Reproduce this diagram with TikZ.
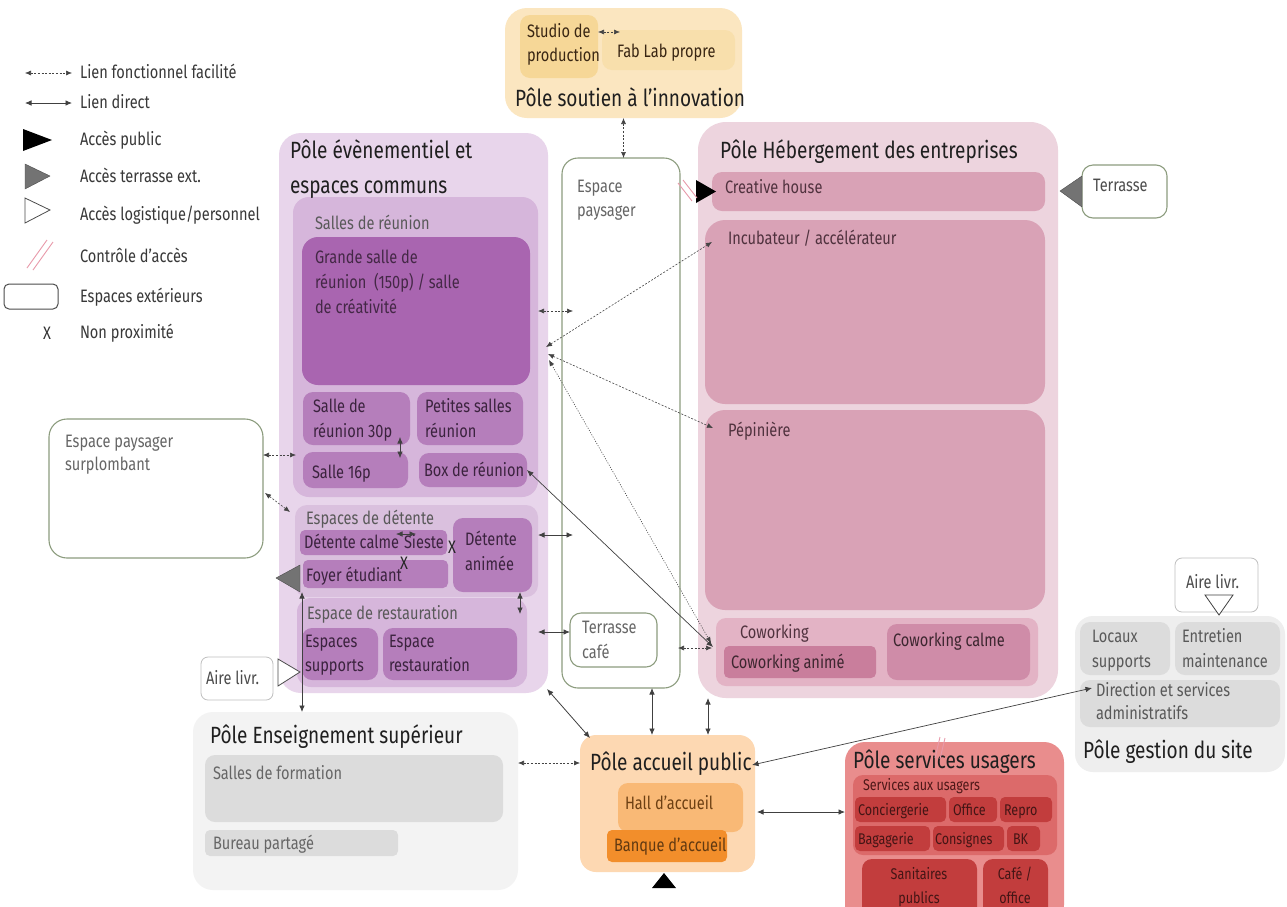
\documentclass[tikz,border=0pt]{standalone}
\usepackage{fontspec}
\setmainfont[FakeStretch=0.81]{Fira Sans}
\usetikzlibrary{arrows.meta,fit,calc}
\definecolor{extc}{HTML}{8C9C7E}
\definecolor{arrc}{HTML}{444444}
\definecolor{soutA}{HTML}{FBE6C0}
\definecolor{soutB}{HTML}{F6D797}
\definecolor{evA}{HTML}{E8D5EB}
\definecolor{evB}{HTML}{D6B6DB}
\definecolor{evC}{HTML}{A965B0}
\definecolor{evD}{HTML}{B57EBB}
\definecolor{evE}{HTML}{DAC0DE}
\definecolor{hebA}{HTML}{EDD4DE}
\definecolor{hebB}{HTML}{D9A2B6}
\definecolor{hebC}{HTML}{E3B3C5}
\definecolor{hebD}{HTML}{C97E9C}
\definecolor{hebE}{HTML}{CF8CA8}
\definecolor{grA}{HTML}{EEEEEE}
\definecolor{grB}{HTML}{DCDCDC}
\definecolor{grC}{HTML}{F3F3F3}
\definecolor{accA}{HTML}{FDD8B2}
\definecolor{accB}{HTML}{F9B976}
\definecolor{accC}{HTML}{F28E2B}
\definecolor{svA}{HTML}{E98D8D}
\definecolor{svB}{HTML}{DC6A6A}
\definecolor{svC}{HTML}{C23D3D}
\definecolor{pinkc}{HTML}{E89AAA}
\newcommand{\smallfs}{\fontsize{18}{21}\selectfont}
\newcommand{\svfs}{\fontsize{15.5}{18}\selectfont}
\newcommand{\titlefs}{\fontsize{23.5}{27}\selectfont}
\newcommand{\bx}[6]{\node[#6, fit={(#2,#3) (#4,#5)}] (#1) {};}
\tikzset{
  every node/.style={inner sep=0pt, outer sep=0pt},
  pole/.style={rounded corners=22pt},
  inbox/.style={rounded corners=10pt},
  smbox/.style={rounded corners=5pt},
  extbox/.style={draw=extc, line width=1.1pt, fill=white, rounded corners=11pt},
  txt/.style={anchor=base west, font=\smallfs, text=black!78},
  ttl/.style={anchor=base west, font=\titlefs, text=black!88},
  dl/.style={{Latex[length=6pt,width=5pt]}-{Latex[length=6pt,width=5pt]}, draw=arrc, line width=0.6pt, dash pattern=on 2pt off 1.6pt},
  sl/.style={{Latex[length=6.5pt,width=5.5pt]}-{Latex[length=6.5pt,width=5.5pt]}, draw=black!75, line width=0.8pt},
  slash/.style={draw=pinkc, line width=0.9pt},
}
\begin{document}
\begin{tikzpicture}[x=1pt,y=-1pt]
\useasboundingbox[fill=white] (0,0) rectangle (1287,906);

% ---------------- legend ----------------
\coordinate (lg1a) at (25,73); \coordinate (lg1b) at (72,73);
\coordinate (lg2a) at (25,103); \coordinate (lg2b) at (72,103);
\draw[dl] (lg1a) -- (lg1b);
\draw[sl] (lg2a) -- (lg2b);
\fill[black] (23,129) -- (52,140) -- (23,151) -- cycle;
\filldraw[fill=black!55, draw=black!70] (25,164) -- (50,176) -- (25,189) -- cycle;
\filldraw[fill=white, draw=black!70, line width=0.8pt] (25,198) -- (50,210) -- (25,223) -- cycle;
\draw[slash] (27,268) -- (47,240);
\draw[slash] (33,270) -- (53,242);
\bx{lgrect}{4}{284}{58}{309}{draw=black!70, line width=1pt, rounded corners=5pt}
\node[font=\smallfs, text=black!80] (lgx) at (47,333) {X};
\node[txt] (l1) at (80,78) {Lien fonctionnel facilité};
\node[txt] (l2) at (80,108) {Lien direct};
\node[txt] (l3) at (80,145) {Accès public};
\node[txt] (l4) at (80,182) {Accès terrasse ext.};
\node[txt] (l5) at (80,220) {Accès logistique/personnel};
\node[txt] (l6) at (80,262) {Contrôle d’accès};
\node[txt] (l7) at (80,302) {Espaces extérieurs};
\node[txt] (l8) at (80,338) {Non proximité};

% ---------------- pôle soutien ----------------
\bx{sout}{505}{8}{742}{118}{pole, fill=soutA}
\bx{studio}{520}{15}{598}{78}{inbox, fill=soutB}
\bx{fab}{602}{30}{735}{70}{inbox, fill=soutB!80}
\node[txt, text=black!70!brown] (tstudio1) at (527,37) {Studio de};
\node[txt, text=black!70!brown] (tstudio2) at (527,61) {production};
\node[txt, text=black!70!brown] (tfab) at (617,57) {Fab Lab propre};
\node[ttl] (tsout) at (515,106) {Pôle soutien à l’innovation};

% ---------------- pôle évènementiel ----------------
\bx{ev}{279}{133}{548}{693}{pole, fill=evA}
\bx{sr}{293}{197}{538}{497}{rounded corners=16pt, fill=evB}
\bx{gs}{302}{237}{530}{385}{rounded corners=16pt, fill=evC}
\bx{s30}{303}{392}{410}{445}{inbox, fill=evD}
\bx{psr}{417}{392}{523}{445}{inbox, fill=evD}
\bx{s16}{303}{452}{408}{488}{inbox, fill=evD}
\bx{boxr}{419}{453}{527}{487}{inbox, fill=evD}
\bx{dt}{295}{505}{538}{597}{rounded corners=12pt, fill=evE}
\bx{dcalme}{300}{530}{447}{555}{smbox, fill=evD}
\bx{foyer}{303}{560}{448}{588}{smbox, fill=evD}
\bx{danim}{453}{518}{532}{592}{inbox, fill=evD}
\bx{rest}{297}{598}{527}{687}{rounded corners=14pt, fill=evB}
\bx{esup}{302}{628}{378}{680}{inbox, fill=evD}
\bx{erest}{383}{628}{517}{680}{inbox, fill=evD}
\node[ttl] (tev1) at (290,158) {Pôle évènementiel et};
\node[ttl] (tev2) at (290,193) {espaces communs};
\node[txt, text=black!65] (tsr) at (315,229) {Salles de réunion};
\node[txt, text=evC!40!black] (tgs1) at (315,263) {Grande salle de};
\node[txt, text=evC!40!black] (tgs2) at (315,288) {réunion~~(150p) / salle};
\node[txt, text=evC!40!black] (tgs3) at (315,313) {de créativité};
\node[txt, text=evC!35!black] (ts301) at (313,412) {Salle de};
\node[txt, text=evC!35!black] (ts302) at (313,437) {réunion 30p};
\node[txt, text=evC!35!black] (tpsr1) at (425,412) {Petites salles};
\node[txt, text=evC!35!black] (tpsr2) at (425,437) {réunion};
\node[txt, text=evC!35!black] (ts16) at (312,478) {Salle 16p};
\node[txt, text=evC!35!black] (tboxr) at (424,476) {Box de réunion};
\node[txt, text=black!65] (tdt) at (306,524) {Espaces de détente};
\node[txt, text=evC!35!black] (tdc) at (304,548) {Détente calme};
\node[txt, text=evC!35!black] (tsi) at (404,548) {Sieste};
\node[txt, text=evC!35!black] (tfo) at (306,581) {Foyer étudiant};
\node[txt, text=evC!35!black] (tda1) at (465,545) {Détente};
\node[txt, text=evC!35!black] (tda2) at (465,570) {animée};
\node[txt, text=black!65] (trest) at (307,619) {Espace de restauration};
\node[txt, text=evC!35!black] (tes1) at (305,647) {Espaces};
\node[txt, text=evC!35!black] (tes2) at (305,671) {supports};
\node[txt, text=evC!35!black] (ter1) at (389,647) {Espace};
\node[txt, text=evC!35!black] (ter2) at (389,671) {restauration};
\node[font=\smallfs, text=black!85] (xa) at (452,547) {X};
\node[font=\smallfs, text=black!85] (xb) at (404,563) {X};
\draw[sl, line width=0.6pt] ($(dcalme.north west)+(96,4)$) -- ($(dcalme.north west)+(116,4)$);

% ---------------- espace paysager ----------------
\bx{pay}{562}{158}{680}{688}{extbox, rounded corners=16pt}
\bx{tcafe}{570}{613}{657}{667}{extbox}
\node[txt, text=black!60] (tpay1) at (577,192) {Espace};
\node[txt, text=black!60] (tpay2) at (577,216) {paysager};
\node[txt, text=black!60] (ttc1) at (582,633) {Terrasse};
\node[txt, text=black!60] (ttc2) at (582,658) {café};

% ---------------- pôle hébergement ----------------
\bx{heb}{698}{122}{1058}{698}{rounded corners=28pt, fill=hebA}
\bx{creat}{712}{172}{1045}{211}{inbox, fill=hebB}
\bx{incub}{705}{220}{1045}{404}{rounded corners=20pt, fill=hebB}
\bx{pep}{705}{410}{1045}{610}{rounded corners=20pt, fill=hebB}
\bx{cow}{716}{618}{1038}{686}{inbox, fill=hebC}
\bx{cowa}{724}{646}{876}{678}{smbox, fill=hebD}
\bx{cowc}{887}{624}{1030}{680}{inbox, fill=hebE}
\node[ttl] (theb) at (720,158) {Pôle Hébergement des entreprises};
\node[txt, text=hebD!40!black] (tcreat) at (725,193) {Creative house};
\node[txt, text=hebD!40!black] (tincub) at (728,244) {Incubateur / accélérateur};
\node[txt, text=hebD!40!black] (tpep) at (728,436) {Pépinière};
\node[txt, text=hebD!40!black] (tcow) at (740,638) {Coworking};
\node[txt, text=hebD!30!black] (tcowa) at (731,668) {Coworking animé};
\node[txt, text=hebD!30!black] (tcowc) at (893,646) {Coworking calme};
\fill[black] (696,180) -- (716,191.5) -- (696,203) -- cycle;
\draw[slash] (678,183) -- (692,201);
\draw[slash] (683,180) -- (697,198);

% terrasse
\bx{terr}{1082}{165}{1167}{218}{extbox}
\node[txt, text=black!70] (tterr) at (1093,191) {Terrasse};
\filldraw[fill=black!55, draw=black!70] (1060,191) -- (1082,176) -- (1082,207) -- cycle;

% ---------------- espace paysager surplombant ----------------
\bx{surp}{49}{419}{263}{558}{extbox, rounded corners=18pt}
\node[txt, text=black!60] (tsurp1) at (65,447) {Espace paysager};
\node[txt, text=black!60] (tsurp2) at (65,470) {surplombant};
\filldraw[fill=black!55, draw=black!70] (276,578) -- (300,565) -- (300,592) -- cycle;

% aire livr left
\bx{aireL}{201}{657}{273}{700}{draw=black!25, line width=0.8pt, fill=white, rounded corners=7pt}
\node[txt, text=black!70] (taireL) at (206,684) {Aire livr.};
\filldraw[fill=white, draw=black!70, line width=0.8pt] (300,672) -- (278,659) -- (278,686) -- cycle;

% ---------------- pôle gestion du site ----------------
\bx{aireR}{1175}{558}{1258}{612}{draw=black!25, line width=0.8pt, fill=white, rounded corners=7pt}
\node[txt, text=black!70] (taireR) at (1186,588) {Aire livr.};
\filldraw[fill=white, draw=black!75, line width=0.8pt] (1205,595) -- (1233,595) -- (1219,615) -- cycle;
\bx{gest}{1075}{616}{1285}{772}{rounded corners=18pt, fill=grA}
\bx{loc}{1080}{622}{1170}{675}{inbox, fill=grB}
\bx{entr}{1175}{622}{1280}{675}{inbox, fill=grB}
\bx{dir}{1080}{680}{1280}{727}{inbox, fill=grB}
\node[txt, text=black!65] (tloc1) at (1092,642) {Locaux};
\node[txt, text=black!65] (tloc2) at (1092,667) {supports};
\node[txt, text=black!65] (tent1) at (1182,642) {Entretien};
\node[txt, text=black!65] (tent2) at (1182,667) {maintenance};
\node[txt, text=black!65] (tdir1) at (1096,696) {Direction et services};
\node[txt, text=black!65] (tdir2) at (1096,719) {administratifs};
\node[ttl] (tgest) at (1083,758) {Pôle gestion du site};

% ---------------- pôle enseignement ----------------
\bx{ens}{193}{712}{518}{890}{rounded corners=20pt, fill=grC}
\bx{sform}{205}{755}{503}{822}{inbox, fill=grB}
\bx{bur}{205}{830}{398}{856}{smbox, fill=grB}
\node[ttl] (tens) at (210,743) {Pôle Enseignement supérieur};
\node[txt, text=black!60] (tsform) at (213,779) {Salles de formation};
\node[txt, text=black!60] (tbur) at (213,849) {Bureau partagé};

% ---------------- pôle accueil ----------------
\bx{acc}{580}{735}{755}{872}{rounded corners=16pt, fill=accA}
\bx{hall}{618}{783}{743}{832}{inbox, fill=accB}
\bx{banq}{607}{830}{727}{862}{smbox, fill=accC}
\node[ttl] (tacc) at (590,770) {Pôle accueil public};
\node[txt, text=accC!45!black] (thall) at (625,809) {Hall d’accueil};
\node[txt, text=accC!40!black] (tbanq) at (614,851) {Banque d’accueil};
\fill[black] (652,888) -- (676,888) -- (664,873) -- cycle;

% ---------------- pôle services usagers ----------------
\bx{serv}{845}{742}{1064}{925}{rounded corners=20pt, fill=svA}
\bx{sau}{853}{775}{1057}{855}{inbox, fill=svB}
\bx{conc}{855}{797}{946}{822}{smbox, fill=svC}
\bx{off}{949}{797}{997}{822}{smbox, fill=svC}
\bx{rep}{1000}{797}{1052}{822}{smbox, fill=svC}
\bx{bag}{855}{826}{930}{851}{smbox, fill=svC}
\bx{cons}{933}{826}{1004}{851}{smbox, fill=svC}
\bx{bk}{1007}{826}{1040}{851}{smbox, fill=svC}
\bx{san}{862}{859}{977}{925}{inbox, fill=svC}
\bx{cafe}{983}{859}{1048}{925}{inbox, fill=svC}
\node[ttl] (tserv) at (853,768) {Pôle services usagers};
\node[txt, font=\svfs, text=svC!40!black] (tsau) at (863,790) {Services aux usagers};
\node[txt, font=\svfs, text=svC!35!black] (tconc) at (858,815) {Conciergerie};
\node[txt, font=\svfs, text=svC!35!black] (toff) at (953,815) {Office};
\node[txt, font=\svfs, text=svC!35!black] (trep) at (1004,815) {Repro};
\node[txt, font=\svfs, text=svC!35!black] (tbag) at (858,844) {Bagagerie};
\node[txt, font=\svfs, text=svC!35!black] (tcons) at (935,844) {Consignes};
\node[txt, font=\svfs, text=svC!35!black] (tbk) at (1013,844) {BK};
\node[anchor=base, font=\svfs, text=svC!35!black] (tsan1) at (919,879) {Sanitaires};
\node[anchor=base, font=\svfs, text=svC!35!black] (tsan2) at (919,903) {publics};
\node[anchor=base, font=\svfs, text=svC!35!black] (tcafe1) at (1015,879) {Café /};
\node[anchor=base, font=\svfs, text=svC!35!black] (tcafe2) at (1015,903) {office};

% ---------------- connectors ----------------
\coordinate (hub1) at ($(gs.east)+(16,36)$);
\coordinate (hub2) at ($(gs.east)+(18,43)$);
\coordinate (hub3) at ($(gs.east)+(19,49)$);
% soutien <-> espace paysager
\draw[dl] (sout.south) -- (sout.south |- pay.north);
% studio <-> fab lab
\draw[dl] ($(studio.east)+(0,-14.5)$) -- ($(fab.north west)+(18,2)$);
% grande salle <-> espace paysager
\draw[dl] (sr.east |- gs.east) -- ($(pay.west |- gs.east)+(11,0)$);
% hub links
\draw[dl] (hub1) -- ($(incub.north west)+(7,22)$);
\draw[dl] (hub2) -- ($(pep.north west)+(8,18)$);
\draw[{Latex[length=6pt,width=5pt]}-{Latex[length=6pt,width=5pt]}, draw=arrc, line width=0.6pt, dash pattern=on 1pt off 1.5pt] (hub3) -- ($(cow.west)+(-5,-9)$);
% box de réunion <-> coworking (direct)
\draw[sl, line width=0.7pt] (boxr.east) -- ($(cow.west)+(-3,-5)$);
% espace paysager <-> coworking
\draw[dl] ($(pay.east)+(-2,225)$) -- ($(cow.west)+(-4,-4)$);
% détente <-> espace paysager
\draw[sl] ($(dt.east)+(0,-16)$) -- ($(pay.west)+(11,112)$);
% restauration <-> terrasse café
\draw[sl] ($(rest.east)+(11,-10.5)$) -- ($(tcafe.west)+(0,-8)$);
% détente animée <-> restauration
\draw[sl] ($(danim.south east)+(-12,0)$) -- ($(rest.north east)+(-7,16)$);
% salle 30p <-> salle 16p
\draw[sl, line width=0.6pt] ($(s30.south east)+(-10,-8)$) -- ($(s16.north east)+(-8,6)$);
% surplombant links
\draw[dl] ($(surp.east)+(0,-33.5)$) -- ($(s16.west)+(-7,-15)$);
\draw[dl] ($(surp.east)+(2,4.5)$) -- ($(dt.north west)+(-5,7)$);
% foyer <-> enseignement
\draw[sl] ($(foyer.south west)+(-1,4)$) -- ($(ens.north west)+(109,0)$);
% évènementiel <-> accueil
\draw[sl] ($(ev.south east)+(-1,-4)$) -- ($(acc.north west)+(10,3)$);
% espace paysager <-> accueil
\draw[sl] ($(pay.south)+(31,0)$) -- ($(acc.north)+(-15.5,0)$);
% hébergement <-> accueil
\draw[sl] ($(heb.south west)+(10,0)$) -- ($(acc.north)+(40.5,0)$);
% enseignement <-> accueil
\draw[dl] ($(ens.east)+(0,-38)$) -- ($(acc.west)+(0,-40.5)$);
% accueil <-> direction
\draw[sl, line width=0.7pt] ($(acc.east)+(-3,-38.5)$) -- ($(dir.west)+(12,-15.5)$);
\draw[slash] (935,758) -- (940,737);
\draw[slash] (940,759) -- (945,738);
% accueil <-> services usagers
\draw[sl] ($(acc.east)+(2,8.5)$) -- ($(serv.west)+(0,-21.5)$);
\end{tikzpicture}
\end{document}
